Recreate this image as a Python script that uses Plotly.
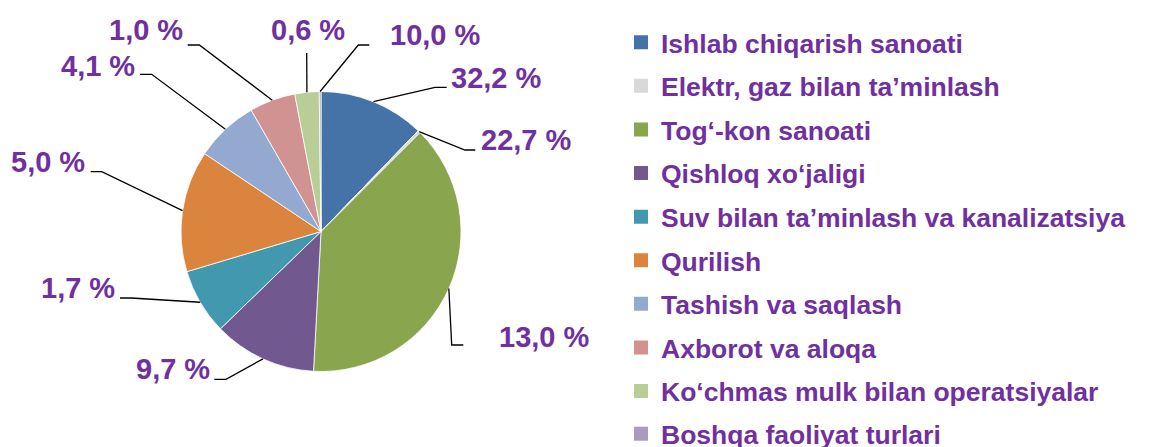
import math
import plotly.graph_objects as go

# ---------------- data ----------------
categories = [
    "Ishlab chiqarish sanoati",
    "Elektr, gaz bilan ta’minlash",
    "Tog‘-kon sanoati",
    "Qishloq xo‘jaligi",
    "Suv bilan ta’minlash va kanalizatsiya",
    "Qurilish",
    "Tashish va saqlash",
    "Axborot va aloqa",
    "Ko‘chmas mulk bilan operatsiyalar",
    "Boshqa faoliyat turlari",
]
slice_values = [12.2, 0.3, 38.3, 11.9, 7.6, 14.0, 7.3, 5.3, 2.8, 0.2]
label_texts = ["32,2 %", "22,7 %", "13,0 %", "9,7 %", "1,7 %",
               "5,0 %", "4,1 %", "1,0 %", "0,6 %", "10,0 %"]
colors = ["#4572A7", "#D9D9D9", "#89A54E", "#71588F", "#4198AF",
          "#DB843D", "#93A9CF", "#D19392", "#B9CD96", "#A99BBD"]

# ---------------- layout constants (screen pixels) ----------------
OFF = 8                      # default page body margin
W, H = 1152 - OFF, 447 - OFF  # figure size so it fits the window
PIE_CX, PIE_CY, PIE_R = 321, 231.5, 140
TEXT_COLOR = "#7030A0"
FONT = "Liberation Sans, Arial, sans-serif"

# label text centre (x, y), leader elbow (x, y), leader end x
label_layout = [
    (496.7, 77.5, 435.0, 87.3, 446.7),
    (526.0, 140.0, 465.0, 150.0, 475.3),
    (544.3, 336.7, 451.7, 345.0, 463.3),
    (172.5, 369.0, 226.0, 379.3, 214.3),
    (78.3, 288.0, 131.0, 298.0, 120.0),
    (48.3, 162.0, 101.7, 171.7, 90.7),
    (97.8, 65.5, 151.7, 74.3, 140.0),
    (146.0, 30.3, 199.3, 45.0, 187.7),
    (308.3, 30.3, 306.7, 53.0, 306.7),
    (435.3, 35.0, 358.3, 45.0, 369.3),
]
LEGEND_LEFT, LEGEND_TOP = 621, 18.5
LEGEND2_TOP = 410.0          # last entry sits in its own (partly cut) legend
LEGEND_FONT_SIZE = 26.5
LEGEND_GAP = 6.15


def px(x):
    return (x - OFF) / W


def py(y):
    return 1 - (y - OFF) / H


fig = go.Figure()

fig.add_trace(go.Pie(
    labels=categories,
    values=slice_values,
    sort=False,
    direction="clockwise",
    rotation=0,
    textinfo="none",
    hoverinfo="label+value",
    marker=dict(colors=colors, line=dict(color="white", width=0.8)),
    showlegend=False,
    domain=dict(x=[px(PIE_CX - PIE_R), px(PIE_CX + PIE_R)],
                y=[py(PIE_CY + PIE_R), py(PIE_CY - PIE_R)]),
))

# legend entries (one group per category so the spacing can be set)
n = len(categories)
for i, (name, col) in enumerate(zip(categories, colors)):
    fig.add_trace(go.Scatter(
        x=[None], y=[None], mode="markers", name=name,
        legendgroup=name,
        legend="legend2" if i == n - 1 else "legend",
        marker=dict(symbol="square", size=14, color=col),
        hoverinfo="skip",
    ))

# leader lines + labels, anchored at the mid-angle of each slice
total = sum(slice_values)
cum = 0.0
shapes = []
annotations = []
for val, txt, (tx, ty, ex, ey, lx) in zip(slice_values, label_texts, label_layout):
    mid = (cum + val / 2) / total * 2 * math.pi
    cum += val
    sx = PIE_CX + PIE_R * math.sin(mid)
    sy = PIE_CY - PIE_R * math.cos(mid)
    path = (f"M {px(sx)},{py(sy)} L {px(ex)},{py(ey)} L {px(lx)},{py(ey)}")
    shapes.append(dict(type="path", path=path, xref="paper", yref="paper",
                       line=dict(color="black", width=1.3), layer="above"))
    annotations.append(dict(
        x=px(tx), y=py(ty), xref="paper", yref="paper",
        text=txt, showarrow=False, xanchor="center", yanchor="middle",
        font=dict(family=FONT, size=29, color=TEXT_COLOR, weight="bold"),
    ))

legend_font = dict(family=FONT, size=LEGEND_FONT_SIZE, color=TEXT_COLOR, weight="bold")

fig.update_layout(
    width=W, height=H, autosize=False,
    margin=dict(l=0, r=0, t=0, b=0, autoexpand=False),
    paper_bgcolor="white", plot_bgcolor="white",
    xaxis=dict(visible=False, domain=[0.99, 1.0]),
    yaxis=dict(visible=False, domain=[0.99, 1.0]),
    shapes=shapes,
    annotations=annotations,
    showlegend=True,
    legend=dict(
        x=px(LEGEND_LEFT), y=py(LEGEND_TOP), xanchor="left", yanchor="top",
        font=legend_font, tracegroupgap=LEGEND_GAP,
        bgcolor="rgba(0,0,0,0)", borderwidth=0,
    ),
    legend2=dict(
        x=px(LEGEND_LEFT), y=py(LEGEND2_TOP), xanchor="left", yanchor="top",
        font=legend_font, tracegroupgap=LEGEND_GAP,
        bgcolor="rgba(0,0,0,0)", borderwidth=0,
    ),
)

fig.write_html("out.html")
